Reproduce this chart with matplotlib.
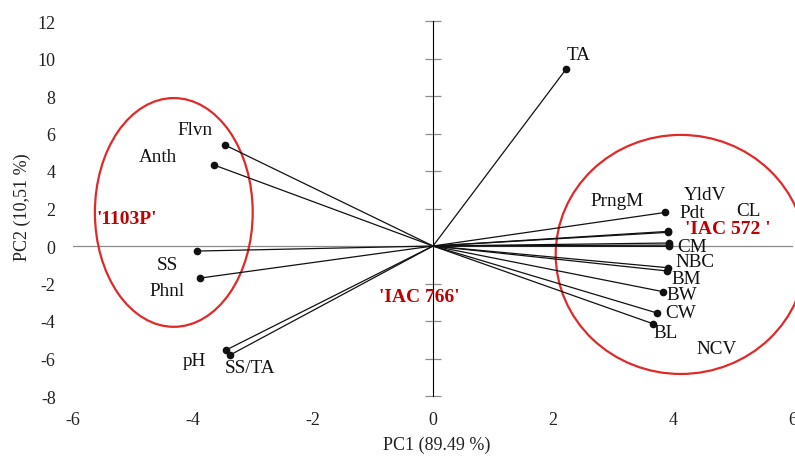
import matplotlib
matplotlib.use("Agg")
import matplotlib.pyplot as plt
from matplotlib.patches import Ellipse

plt.rcParams['font.family'] = ['Liberation Serif', 'DejaVu Serif']

# Loadings (PC1, PC2)
variables = ["TA", "Flvn", "Anth", "SS", "Phnl", "pH", "SS/TA",
             "PrngM", "YldV", "Pdt", "CL", "CM", "NCV", "NBC", "BM", "BW", "CW", "BL"]
pc1 = [2.22, -3.47, -3.65, -3.93, -3.88, -3.45, -3.38,
       3.87, 3.92, 3.92, 3.93, 3.94, 3.94, 3.92, 3.90, 3.84, 3.73, 3.66]
pc2 = [9.44, 5.39, 4.32, -0.27, -1.71, -5.55, -5.81,
       1.79, 0.78, 0.73, 0.16, 0.05, -0.02, -1.16, -1.33, -2.44, -3.57, -4.14]

# label positions (data coords)
label_x = [2.43, -3.97, -4.58, -4.42, -4.43, -3.97, -3.05,
           3.07, 4.53, 4.32, 5.25, 4.32, 4.72, 4.37, 4.22, 4.15, 4.12, 3.87]
label_y = [10.24, 6.19, 4.80, -1.00, -2.40, -6.13, -6.50,
           2.40, 2.77, 1.81, 1.92, 0.00, -5.49, -0.85, -1.71, -2.61, -3.57, -4.59]

groups = ["'1103P'", "'IAC 572 '", "'IAC 766'"]
group_x = [-5.10, 4.92, -0.22]
group_y = [1.49, 0.91, -2.72]

x_ticks = [-6, -4, -2, 0, 2, 4, 6]
y_ticks = [-8, -6, -4, -2, 0, 2, 4, 6, 8, 10, 12]

fig = plt.figure(figsize=(7.95, 4.6), dpi=100)
ax = fig.add_axes([73/795, 1-397/460, 720/795, 375/460])
ax.set_xlim(-6, 6)
ax.set_ylim(-8, 12)
for s in ax.spines.values():
    s.set_visible(False)
ax.set_xticks(x_ticks)
ax.set_yticks(y_ticks)
ax.set_xticklabels([str(v) for v in x_ticks])
ax.set_yticklabels([str(v) for v in y_ticks])
ax.tick_params(axis='both', length=0, labelsize=13, colors='#222222')
ax.tick_params(axis='y', pad=12.5)
ax.tick_params(axis='x', pad=11)

# horizontal axis line at y=0
ax.axhline(0, color='#8c8c8c', lw=0.9, zorder=1)
# vertical axis at x=0 with cross ticks
sec = ax.secondary_yaxis(0.5)
sec.set_yticks(y_ticks)
sec.set_yticklabels([])
sec.tick_params(direction='inout', length=11, width=0.9, color='#8c8c8c')
sec.spines['left'].set_color('#8c8c8c')
sec.spines['left'].set_linewidth(0.9)

for xv, yv in zip(pc1, pc2):
    ax.plot([0, xv], [0, yv], color='#111111', lw=0.9, zorder=3)
    ax.plot([xv], [yv], 'o', color='#111111', ms=4.5, zorder=4)

for name, lx, ly in zip(variables, label_x, label_y):
    ax.text(lx, ly, name, ha='center', va='center', fontsize=13.8, color='#111111', zorder=5)

for g, gx, gy in zip(groups, group_x, group_y):
    ax.text(gx, gy, g, ha='center', va='center', fontsize=14, color='#C00000',
            fontweight='bold', zorder=5)

ax.add_patch(Ellipse((-4.32, 1.79), 2.63, 12.2, fill=False, ec='#E02A2A', lw=1.6, zorder=2))
ax.add_patch(Ellipse((4.13, -0.45), 4.17, 12.75, fill=False, ec='#E02A2A', lw=1.6,
                     zorder=2, clip_on=False))

fig.text(437/795, 1-445/460, "PC1 (89.49 %)", ha='center', va='center', fontsize=13, color='#222222')
fig.text(22/795, 1-207/460, "PC2 (10,51 %)", ha='center', va='center', fontsize=13,
         rotation=90, color='#222222')

fig.savefig("out.png", dpi=100)
